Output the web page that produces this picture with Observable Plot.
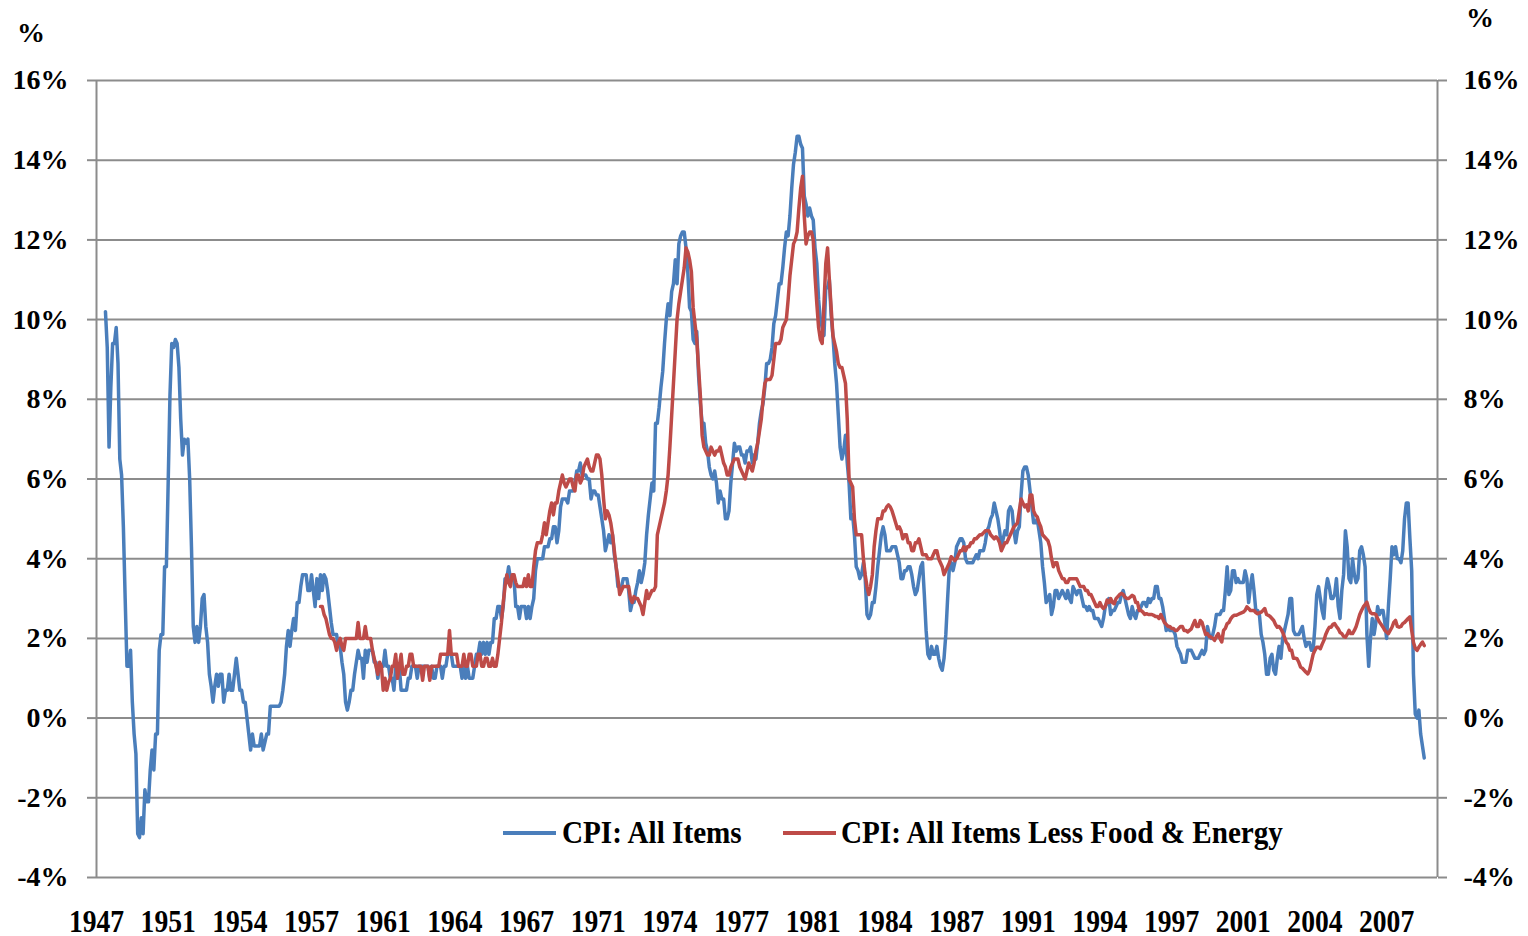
<!DOCTYPE html>
<html><head><meta charset="utf-8">
<script src="https://cdn.jsdelivr.net/npm/d3@7"></script>
<script src="https://cdn.jsdelivr.net/npm/@observablehq/plot@0.6"></script>
<style>
body{margin:0;background:#fff;}
#wrap{position:relative;width:1528px;height:936px;font-family:"Liberation Serif","Times New Roman",serif;font-weight:bold;color:#000;}
.unit{position:absolute;font-size:28px;line-height:28px;}
.lg-sw{position:absolute;top:831px;width:53px;height:3.5px;}
.lg-tx{position:absolute;top:818px;font-size:31px;line-height:30px;white-space:nowrap;transform:scaleX(0.94);transform-origin:0 50%;}
</style></head><body><div id="wrap"></div>
<script>
// Month index 0 = Aug 1947 (axis start); labels every 40 months
const xTickLabels = ["1947","1951","1954","1957","1961","1964","1967","1971","1974","1977","1981","1984","1987","1991","1994","1997","2001","2004","2007"];
const xTickStep = 40;
const xMax = 748.4;
const yTicks = [-4,-2,0,2,4,6,8,10,12,14,16];
const seriesNames = ["CPI: All Items", "CPI: All Items Less Food & Energy"];

// CPI: All Items, YoY %, monthly from Jan 1948 (index 5)
const allItemsStart = 5;
const allItems = [
10.2,9.3,6.8,8.3,9.4,9.4,9.8,8.9,6.5,6.1,4.8,3.0,
1.3,1.3,1.7,0.4,-0.4,-0.9,-2.9,-3.0,-2.5,-2.9,-1.8,-2.1,
-2.1,-1.3,-0.8,-1.3,-0.4,-0.4,1.7,2.1,2.1,3.8,3.8,5.9,
8.1,9.4,9.3,9.5,9.4,8.8,7.5,6.6,7.0,6.9,7.0,6.0,
4.3,2.3,1.9,2.3,1.9,2.3,3.0,3.1,2.3,1.9,1.1,0.8,
0.4,0.8,1.1,0.8,1.1,1.1,0.4,0.7,0.7,1.1,0.7,0.7,
1.1,1.5,1.1,0.7,0.7,0.4,0.4,0.0,-0.4,-0.8,-0.4,-0.7,
-0.7,-0.7,-0.7,-0.4,-0.8,-0.6,-0.4,-0.4,0.3,0.3,0.3,0.3,
0.3,0.3,0.4,0.7,1.1,1.8,2.2,1.8,2.2,2.5,2.2,2.9,
2.9,3.3,3.6,3.6,3.6,3.2,3.2,3.6,3.2,2.8,3.5,3.0,
3.6,3.2,3.6,3.5,3.2,2.8,2.4,2.1,2.1,2.1,1.8,1.8,
1.4,1.1,0.4,0.2,0.4,0.7,0.7,1.1,1.4,1.7,1.5,1.5,
1.0,1.7,1.4,1.7,1.7,1.7,1.4,1.4,1.0,1.3,1.3,1.3,
1.7,1.3,1.3,1.0,1.0,0.7,1.3,1.0,1.3,0.7,0.7,0.7,
0.7,1.0,1.0,1.3,1.3,1.3,1.0,1.3,1.3,1.3,1.3,1.3,
1.3,1.0,1.3,1.0,1.0,1.3,1.3,1.3,1.0,1.3,1.3,1.6,
1.6,1.6,1.3,1.3,1.3,1.3,1.3,1.0,1.3,1.0,1.3,1.0,
1.0,1.0,1.3,1.6,1.6,1.9,1.6,1.9,1.6,1.9,1.6,1.9,
1.9,2.5,2.5,2.8,2.8,2.5,2.8,3.5,3.5,3.8,3.5,3.5,
3.5,2.8,2.8,2.5,2.8,2.8,2.8,2.5,2.8,2.5,2.8,3.0,
3.7,4.0,4.0,4.0,4.0,4.3,4.3,4.3,4.5,4.5,4.8,4.8,
4.4,4.7,5.3,5.5,5.5,5.5,5.4,5.7,5.7,5.7,5.9,6.2,
6.2,6.4,6.1,6.1,6.1,6.0,6.0,5.5,5.7,5.7,5.6,5.6,
5.3,5.0,4.7,4.2,4.4,4.6,4.4,4.6,4.1,3.8,3.3,3.3,
3.3,3.5,3.5,3.5,3.2,2.7,2.9,2.9,3.2,3.4,3.7,3.4,
3.6,3.9,4.6,5.1,5.5,5.9,5.7,7.4,7.4,7.8,8.3,8.7,
9.4,10.0,10.4,10.1,10.7,10.9,11.5,10.9,11.9,12.1,12.2,12.2,
11.8,11.2,10.3,10.2,9.5,9.4,9.7,8.6,7.9,7.4,7.4,6.9,
6.7,6.3,6.1,6.0,6.2,5.9,5.4,5.7,5.5,5.5,5.0,5.0,
5.2,5.9,6.4,6.9,6.7,6.8,6.8,6.6,6.6,6.4,6.7,6.7,
6.8,6.4,6.6,6.5,6.9,7.4,7.7,7.9,8.3,8.9,8.9,9.0,
9.3,9.9,10.1,10.5,10.9,10.9,11.3,11.8,12.2,12.1,12.6,13.3,
13.9,14.2,14.6,14.6,14.4,14.3,13.1,12.9,12.6,12.8,12.6,12.5,
11.8,11.4,10.5,10.0,9.8,9.6,10.8,10.8,11.0,10.1,9.6,8.9,
8.4,7.6,6.8,6.5,6.7,7.1,6.4,5.9,5.0,5.1,4.6,3.8,
3.7,3.5,3.6,3.9,3.5,2.6,2.5,2.6,2.9,2.9,3.3,3.8,
4.2,4.6,4.8,4.6,4.2,4.2,4.2,4.3,4.3,4.3,4.1,3.9,
3.5,3.5,3.7,3.7,3.8,3.8,3.6,3.3,3.1,3.2,3.5,3.8,
3.9,3.1,2.2,1.6,1.5,1.8,1.6,1.6,1.8,1.5,1.3,1.2,
1.5,2.1,3.0,3.8,3.9,3.7,3.9,4.3,4.4,4.5,4.5,4.4,
4.0,3.9,3.9,3.9,3.9,4.0,4.1,4.0,4.2,4.2,4.2,4.4,
4.7,4.8,5.0,5.1,5.4,5.2,5.0,4.7,4.3,4.5,4.7,4.6,
5.2,5.3,5.2,4.7,4.4,4.7,4.8,5.6,6.2,6.3,6.3,6.1,
5.7,5.3,4.9,4.9,5.0,4.7,4.4,3.8,3.4,2.9,3.0,3.1,
2.6,2.8,3.2,3.2,3.0,3.1,3.2,3.1,3.0,3.2,3.0,2.9,
3.3,3.2,3.1,3.2,3.2,3.0,2.8,2.8,2.7,2.8,2.7,2.7,
2.5,2.5,2.5,2.4,2.3,2.5,2.8,2.9,3.0,2.6,2.7,2.7,
2.8,2.9,2.9,3.1,3.2,3.0,2.8,2.6,2.5,2.8,2.6,2.5,
2.7,2.7,2.8,2.9,2.9,2.8,3.0,2.9,3.0,3.0,3.3,3.3,
3.0,3.0,2.8,2.5,2.2,2.3,2.2,2.2,2.2,2.1,1.8,1.7,
1.6,1.4,1.4,1.4,1.7,1.7,1.7,1.6,1.5,1.5,1.5,1.6,
1.7,1.6,1.7,2.3,2.1,2.0,2.1,2.3,2.6,2.6,2.6,2.7,
2.7,3.2,3.8,3.1,3.2,3.7,3.7,3.4,3.5,3.4,3.4,3.4,
3.7,3.5,2.9,3.3,3.6,3.2,2.7,2.7,2.6,2.1,1.9,1.6,
1.1,1.1,1.5,1.6,1.2,1.1,1.5,1.8,1.5,2.0,2.2,2.4,
2.6,3.0,3.0,2.2,2.1,2.1,2.1,2.2,2.3,2.0,1.8,1.9,
1.9,1.7,1.7,2.3,3.1,3.3,3.0,2.7,2.5,3.2,3.5,3.3,
3.0,3.0,3.1,3.5,2.8,2.5,3.2,3.6,4.7,4.3,3.5,3.4,
4.0,3.6,3.4,3.5,4.2,4.3,4.1,3.8,2.1,1.3,2.0,2.5,
2.1,2.4,2.8,2.6,2.7,2.7,2.4,2.0,2.8,3.5,4.3,4.1,
4.3,4.0,4.0,3.9,4.2,5.0,5.4,5.4,4.5,3.7,1.1,0.1,
0.0,0.2,-0.4,-0.7,-1.0
];

// CPI: All Items Less Food & Energy, YoY %, monthly from Jan 1958 (index 125)
const coreStart = 125;
const core = [
2.8,2.8,2.6,2.5,2.3,2.1,2.0,2.0,1.9,1.7,1.9,2.0,
1.8,1.7,2.0,2.0,2.0,2.0,2.0,2.0,2.0,2.4,2.0,2.0,
2.0,2.3,2.0,2.0,2.0,1.7,1.5,1.3,1.1,1.4,1.3,0.7,
1.0,0.7,0.9,1.0,1.3,1.3,1.6,1.0,1.3,1.6,1.1,1.1,
1.3,1.3,1.6,1.6,1.3,1.3,1.3,1.3,1.3,0.95,1.3,1.3,
1.3,0.95,1.3,1.3,1.3,1.3,1.3,1.6,1.6,1.6,1.6,1.6,
2.2,1.6,1.6,1.6,1.6,1.3,1.3,1.3,1.6,1.3,1.3,1.6,
1.6,1.3,1.3,1.3,1.6,1.6,1.3,1.3,1.5,1.5,1.3,1.3,
1.5,1.3,1.3,1.6,2.0,2.4,2.9,3.3,3.6,3.4,3.3,3.6,
3.6,3.4,3.3,3.3,3.3,3.3,3.5,3.3,3.6,3.3,3.3,3.8,
4.2,4.4,4.4,4.4,4.6,4.9,4.6,4.9,5.2,5.4,5.1,5.4,
5.4,5.7,5.9,6.1,5.9,5.8,5.9,6.0,6.0,5.8,5.7,6.1,
6.1,5.9,6.0,6.3,6.4,6.5,6.3,6.2,6.2,6.4,6.6,6.6,
6.5,6.1,5.5,5.0,5.2,5.1,4.9,4.6,4.2,3.8,3.5,3.1,
3.2,3.3,3.3,3.3,3.3,3.0,2.9,3.05,3.0,3.0,2.9,2.8,
2.6,2.9,3.2,3.0,3.1,3.2,3.2,3.3,4.6,4.8,5.0,5.2,
5.4,5.7,6.1,6.8,7.6,8.4,9.2,10.0,10.4,10.7,11.0,11.3,
11.8,11.7,11.5,11.2,10.3,9.9,9.5,8.8,8.1,7.1,6.8,6.7,
6.6,6.6,6.8,6.7,6.6,6.7,6.7,6.8,6.6,6.4,6.3,6.1,
6.1,6.3,6.4,6.5,6.5,6.5,6.3,6.2,6.1,6.0,6.2,6.4,
6.3,6.2,6.4,6.7,6.9,7.2,7.5,8.0,8.4,8.5,8.5,8.5,
8.6,9.0,9.4,9.4,9.4,9.5,9.8,9.9,10.0,10.5,11.1,11.5,
11.9,12.0,12.2,12.8,13.3,13.6,12.6,11.9,12.1,12.2,12.2,12.0,
11.1,10.4,9.8,9.5,9.4,10.4,11.4,11.8,11.0,10.3,9.6,9.4,
9.2,8.9,8.8,8.8,8.6,8.4,7.5,6.0,5.9,5.8,5.0,4.6,
4.6,4.6,4.6,4.0,3.6,3.3,3.1,3.3,3.6,4.3,4.7,5.0,
5.0,5.0,5.2,5.2,5.3,5.35,5.3,5.2,5.05,4.9,4.75,4.8,
4.7,4.5,4.6,4.6,4.4,4.4,4.2,4.2,4.4,4.4,4.5,4.3,
4.1,4.1,4.1,4.0,4.0,4.0,4.1,4.2,4.2,4.0,3.9,3.8,
3.6,3.7,3.8,3.9,4.05,4.0,3.95,4.0,4.1,4.2,4.2,4.3,
4.2,4.3,4.3,4.4,4.4,4.5,4.5,4.55,4.6,4.6,4.65,4.7,
4.7,4.7,4.6,4.55,4.5,4.55,4.5,4.4,4.2,4.3,4.4,4.4,
4.5,4.6,4.7,4.8,4.85,4.9,5.2,5.5,5.4,5.3,5.35,5.2,
5.6,5.6,5.2,5.1,5.05,4.9,4.8,4.6,4.55,4.5,4.45,4.3,
4.0,3.8,3.9,3.9,3.7,3.6,3.5,3.5,3.4,3.4,3.5,3.5,
3.5,3.5,3.5,3.4,3.3,3.3,3.3,3.2,3.2,3.1,3.1,3.0,
2.9,2.8,2.8,2.9,2.8,2.75,2.8,2.96,2.9,3.0,2.9,2.87,
3.0,3.05,3.1,3.13,3.1,3.04,3.0,3.0,3.04,3.08,3.05,2.9,
2.9,2.7,2.7,2.66,2.6,2.62,2.6,2.6,2.6,2.58,2.55,2.55,
2.5,2.6,2.5,2.4,2.35,2.3,2.3,2.25,2.25,2.2,2.2,2.25,
2.3,2.3,2.2,2.2,2.16,2.2,2.24,2.35,2.45,2.3,2.3,2.45,
2.4,2.24,2.1,2.12,2.05,2.03,2.0,1.95,2.05,2.12,2.0,1.91,
2.2,2.25,2.37,2.4,2.49,2.55,2.58,2.58,2.6,2.62,2.64,2.66,
2.7,2.79,2.75,2.7,2.7,2.7,2.65,2.62,2.64,2.66,2.7,2.75,
2.6,2.58,2.55,2.5,2.45,2.35,2.28,2.3,2.24,2.15,2.03,1.9,
1.85,1.7,1.7,1.5,1.5,1.49,1.4,1.28,1.25,1.2,1.15,1.11,
1.2,1.4,1.6,1.7,1.78,1.78,1.74,1.85,1.95,2.1,2.2,2.28,
2.28,2.35,2.37,2.3,2.24,2.15,2.12,2.05,2.03,2.1,2.2,2.12,
2.12,2.2,2.3,2.45,2.6,2.7,2.79,2.85,2.91,2.75,2.65,2.62,
2.62,2.6,2.5,2.41,2.35,2.28,2.2,2.16,2.12,2.2,2.28,2.4,
2.45,2.3,2.28,2.3,2.37,2.4,2.45,2.5,2.54,2.2,1.9,1.75,
1.7,1.78,1.85,1.91,1.82
];

const blue = "#4A7EBB";
const red = "#BE4B48";
const gridColor = "#8c8c8c";
const fontFam = '"Liberation Serif","Times New Roman",serif';

const allRows = allItems.map((v, k) => ({i: allItemsStart + k, v}));
const coreRows = core.map((v, k) => ({i: coreStart + k, v}));
const xTicks = xTickLabels.map((_, k) => k * xTickStep);
const labelAt = new Map(xTicks.map((t, k) => [t, xTickLabels[k]]));
const pct = d => `${d}%`;

const chart = Plot.plot({
  width: 1528, height: 936,
  marginLeft: 96, marginRight: 91, marginTop: 80, marginBottom: 59,
  style: {fontFamily: fontFam, fontWeight: "bold", fontSize: "28px", background: "#fff", color: "#000", overflow: "visible"},
  x: {domain: [0, xMax]},
  y: {domain: [-4, 16]},
  marks: [
    Plot.gridY(yTicks, {stroke: gridColor, strokeOpacity: 1, strokeWidth: 2}),
    Plot.ruleX([0, xMax], {stroke: gridColor, strokeWidth: 2}),
    Plot.axisY(yTicks, {anchor: "left", tickSize: 9, tickPadding: 19, tickFormat: pct, stroke: gridColor, strokeWidth: 2, label: null, fontSize: 28}),
    Plot.axisY(yTicks, {anchor: "right", tickSize: 9, tickPadding: 17, tickFormat: pct, stroke: gridColor, strokeWidth: 2, label: null, fontSize: 28}),
    Plot.axisX(xTicks, {anchor: "bottom", tickSize: 0, tickPadding: 32, tickFormat: d => labelAt.get(d), label: null, fontSize: 31}),
    Plot.line(allRows, {x: "i", y: "v", stroke: blue, strokeWidth: 3.5, strokeLinejoin: "round"}),
    Plot.line(coreRows, {x: "i", y: "v", stroke: red, strokeWidth: 3.5, strokeLinejoin: "round"})
  ]
});

// slightly condensed year labels, as in the original
d3.select(chart).selectAll('g[aria-label="x-axis tick label"] text').each(function() {
  const t = this.getAttribute("transform") || "";
  this.setAttribute("transform", t + " scale(0.89,1)");
});

const wrap = document.getElementById("wrap");
wrap.appendChild(chart);

const addDiv = (cls, text, left, top, bg) => {
  const el = document.createElement("div");
  el.className = cls;
  if (text) el.textContent = text;
  el.style.left = left + "px";
  if (top != null) el.style.top = top + "px";
  if (bg) el.style.background = bg;
  wrap.appendChild(el);
};
addDiv("unit", "%", 17, 19);
addDiv("unit", "%", 1466, 4);
// legend
addDiv("lg-sw", null, 503, null, blue);
addDiv("lg-tx", seriesNames[0], 562);
addDiv("lg-sw", null, 783, null, red);
addDiv("lg-tx", seriesNames[1], 841);
</script></body></html>
